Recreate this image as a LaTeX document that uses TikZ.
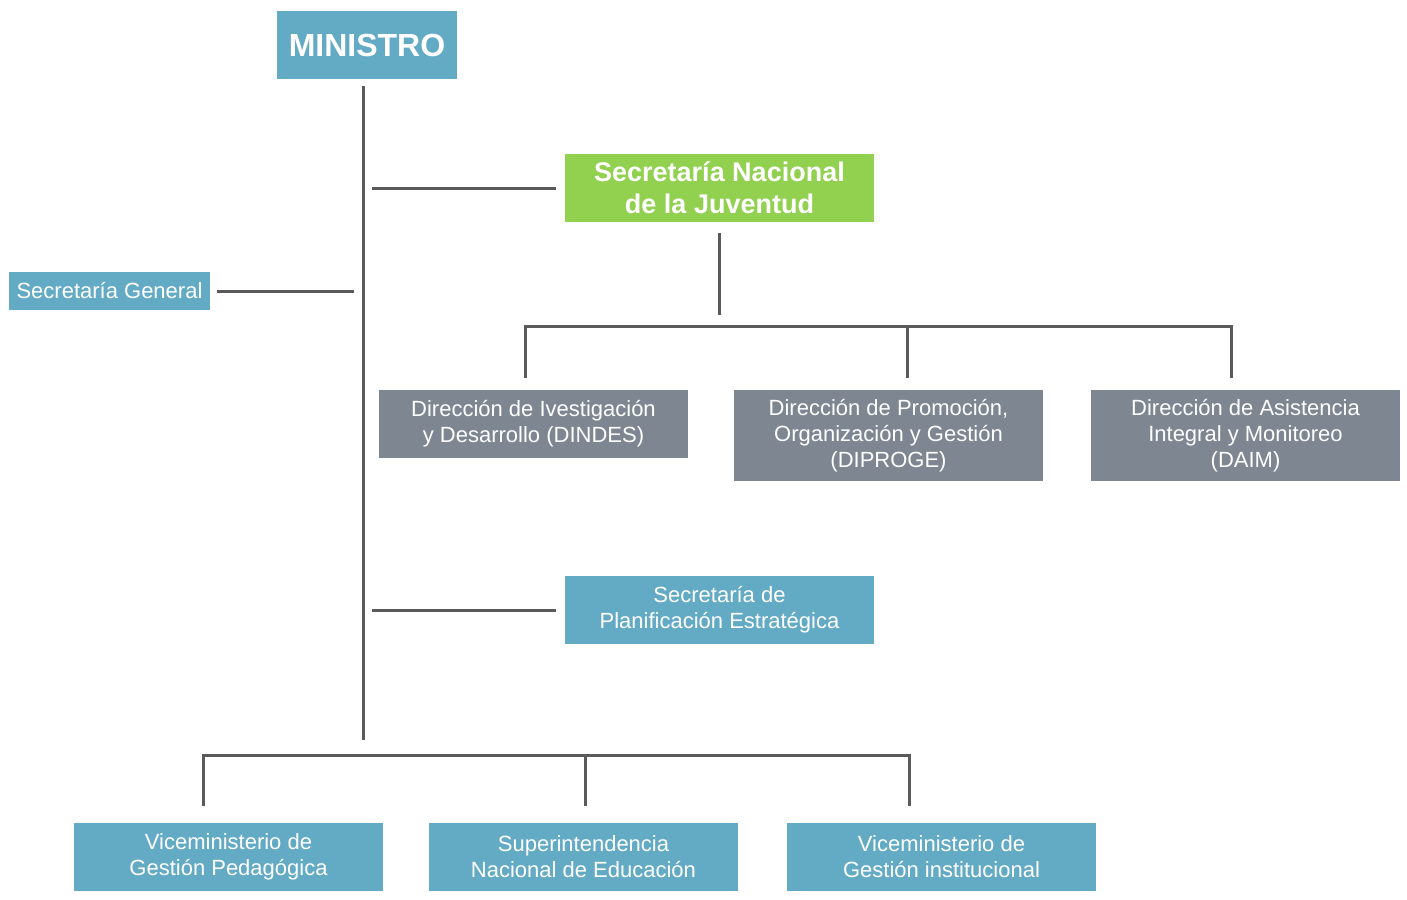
\documentclass[tikz,border=0pt]{standalone}
\usepackage{fontspec}
\setmainfont{Liberation Sans}
\definecolor{boxblue}{HTML}{63AAC4}
\definecolor{boxgreen}{HTML}{92D050}
\definecolor{boxgray}{HTML}{7E8692}
\definecolor{linegray}{HTML}{5A5A5A}
\begin{document}
\begin{tikzpicture}[x=0.5pt,y=-0.5pt,
		unit/.style={fill=#1,text=white,inner sep=0pt,align=center,font=\fontsize{11}{13}\selectfont},
		link/.style={draw=linegray,line width=1.5pt}]
			\useasboundingbox (0,0) rectangle (1407,899);
			\node [unit=boxblue,minimum width=90pt,minimum height=34pt,font=\fontsize{16}{19}\selectfont\bfseries] (min) at (367,45) {MINISTRO};
			\node [unit=boxgreen,minimum width=154.5pt,minimum height=34pt,font=\fontsize{13.5}{16}\selectfont\bfseries] (juv) at (719.5,188) {Secretaría Nacional\\de la Juventud};
			\node [unit=boxblue,minimum width=100.5pt,minimum height=19pt] (sg) at (109.5,291) {Secretaría General};
			\node [unit=boxgray,minimum width=154.5pt,minimum height=34pt] (dindes) at (533.5,424) {Dirección de Ivestigación\\y Desarrollo (DINDES)};
			\node [unit=boxgray,minimum width=154.5pt,minimum height=45.5pt] (diproge) at (888.5,435.5) {Dirección de Promoción,\\Organización y Gestión\\(DIPROGE)};
			\node [unit=boxgray,minimum width=154.5pt,minimum height=45.5pt] (daim) at (1245.5,435.5) {Dirección de Asistencia\\Integral y Monitoreo\\(DAIM)};
			\node [unit=boxblue,minimum width=154.5pt,minimum height=34pt] (spe) at (719.5,610) {Secretaría de\\Planificación Estratégica};
			\node [unit=boxblue,minimum width=154.5pt,minimum height=34pt] (vgp) at (228.5,857) {Viceministerio de\\Gestión Pedagógica};
			\node [unit=boxblue,minimum width=154.5pt,minimum height=34pt] (sne) at (583.5,857) {Superintendencia\\Nacional de Educación};
			\node [unit=boxblue,minimum width=154.5pt,minimum height=34pt] (vgi) at (941.5,857) {Viceministerio de\\Gestión institucional};
			\coordinate (ttop) at (363,86);
			\coordinate (tbot) at (363,740);
			\coordinate (j1) at (525,326);
			\coordinate (j2) at (907,326);
			\coordinate (j3) at (1231,326);
			\coordinate (v1) at (203,755);
			\coordinate (v2) at (585,755);
			\coordinate (v3) at (909,755);
			\draw [link] (ttop) -- (tbot);
			\draw [link,shorten <=4.5pt,shorten >=4.5pt] (ttop |- juv) -- (juv.west);
			\draw [link,shorten <=3.5pt,shorten >=4.5pt] (sg.east) -- (ttop |- sg.east);
			\draw [link,shorten <=4.5pt,shorten >=4.5pt] (ttop |- spe) -- (spe.west);
			\draw [link,shorten <=5.5pt,shorten >=5.5pt] (juv.south) -- (juv.south |- j1);
			\draw [link] ([yshift=6pt]dindes.north -| j1) -- (j1) -- (j3) -- ([yshift=6pt]daim.north -| j3);
			\draw [link,shorten >=6pt] (j2) -- (j2 |- diproge.north);
			\draw [link] ([yshift=8.5pt]vgp.north -| v1) -- (v1) -- (v3) -- ([yshift=8.5pt]vgi.north -| v3);
			\draw [link,shorten >=8.5pt] (v2) -- (v2 |- sne.north);
		\end{tikzpicture}
\end{document}
